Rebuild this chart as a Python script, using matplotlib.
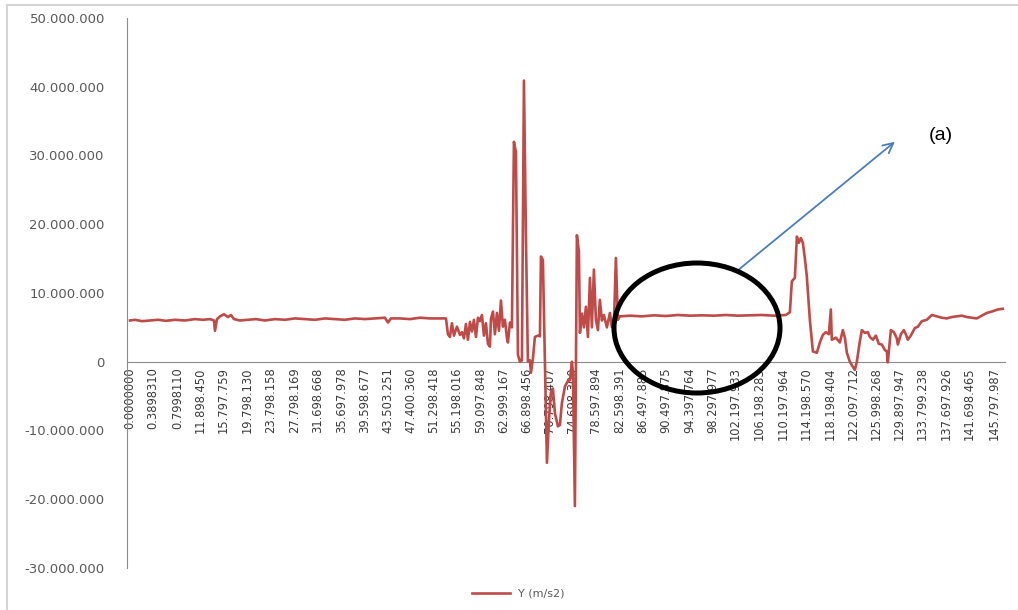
import matplotlib
matplotlib.use("Agg")
import matplotlib.pyplot as plt
import numpy as np
from matplotlib.patches import Ellipse
from matplotlib.lines import Line2D
from matplotlib.ticker import FuncFormatter

# time stamps (s) and lateral acceleration (millions of units) of the trace
time_s = [
    0.0, 0.84, 2.03, 3.38, 4.73, 6.08, 7.59, 9.28, 10.97, 12.32, 13.5, 14.18,
    14.34, 14.68, 15.19, 15.86, 16.54, 17.04, 17.55, 18.56, 19.91, 21.26,
    22.78, 24.47, 26.16, 27.84, 29.53, 31.22, 32.91, 34.59, 36.28, 37.97,
    39.66, 41.34, 43.03, 43.54, 44.04, 45.56, 47.25, 48.94, 50.63, 52.31,
    53.33, 53.66, 54.0, 54.34, 54.68, 55.18, 55.69, 56.03, 56.36, 56.7,
    57.04, 57.38, 57.71, 58.05, 58.39, 58.73, 59.06, 59.4, 59.74, 60.08,
    60.41, 60.75, 60.92, 61.26, 61.59, 61.93, 62.27, 62.61, 62.94, 63.28,
    63.62, 63.79, 64.13, 64.46, 64.8, 65.14, 65.48, 65.81, 66.15, 66.49,
    66.83, 67.16, 67.5, 67.67, 68.01, 68.34, 68.85, 69.19, 69.36, 69.69,
    70.03, 70.37, 70.71, 71.04, 71.38, 71.72, 72.23, 72.56, 72.9, 73.41,
    73.91, 74.25, 74.59, 74.76, 75.09, 75.43, 75.77, 75.94, 76.28, 76.61,
    76.95, 77.29, 77.63, 77.96, 78.3, 78.64, 78.98, 79.31, 79.65, 79.99,
    80.49, 81.0, 81.34, 81.68, 82.01, 82.35, 82.69, 84.38, 86.4, 88.43,
    90.45, 92.48, 94.5, 96.53, 98.55, 100.58, 102.6, 104.63, 106.65, 108.68,
    110.7, 111.38, 111.71, 112.22, 112.56, 112.89, 113.23, 113.57, 113.91,
    114.24, 114.75, 115.26, 115.93, 116.44, 116.94, 117.45, 117.96, 118.29,
    118.46, 119.14, 119.81, 120.32, 120.66, 121.0, 121.5, 121.84, 122.34,
    122.68, 123.19, 123.53, 124.03, 124.54, 124.88, 125.38, 125.89, 126.39,
    126.9, 127.41, 127.74, 127.91, 128.42, 128.93, 129.43, 129.6, 130.11,
    130.61, 130.95, 131.29, 131.79, 132.47, 132.98, 133.65, 134.49, 135.34,
    136.18, 137.03, 137.87, 138.71, 139.56, 140.4, 141.24, 142.09, 142.93,
    143.78, 144.62, 145.46, 146.48, 147.32,
]
accel_m = [
    6.0, 6.1, 5.9, 6.0, 6.1, 5.95, 6.1, 6.0, 6.2, 6.1, 6.2, 6.0,
    4.5, 6.2, 6.6, 6.9, 6.5, 6.8, 6.2, 6.0, 6.1, 6.2,
    6.0, 6.2, 6.1, 6.3, 6.2, 6.1, 6.3, 6.2, 6.1, 6.3,
    6.2, 6.3, 6.4, 5.7, 6.3, 6.3, 6.2, 6.4, 6.3, 6.3,
    6.3, 4.0, 3.6, 5.6, 3.8, 5.1, 3.9, 4.3, 3.4, 5.5,
    3.2, 5.8, 4.4, 6.1, 3.6, 6.4, 5.9, 6.8, 3.8, 5.6,
    2.6, 2.2, 6.2, 7.3, 4.0, 7.1, 4.5, 8.9, 5.1, 6.1,
    3.5, 2.8, 5.7, 5.0, 32.0, 30.5, 1.0, 0.0, 0.2, 40.9,
    18.0, 0.0, 0.2, -1.6, 0.5, 3.6, 3.8, 3.7, 15.3, 14.8,
    0.0, -14.7, -8.5, -4.5, -3.9, -7.5, -9.4, -9.2, -6.0, -3.6,
    -2.8, -2.7, 0.0, -1.6, -21.0, 18.4, 16.0, 4.2, 7.0, 5.0,
    8.0, 3.6, 12.2, 5.0, 13.4, 6.1, 4.6, 9.0, 6.0, 6.8,
    5.0, 7.1, 5.0, 5.5, 15.1, 6.1, 6.6, 6.7, 6.6, 6.75,
    6.65, 6.8, 6.7, 6.75, 6.7, 6.8, 6.7, 6.75, 6.8, 6.7,
    6.8, 7.2, 11.7, 12.2, 18.2, 17.3, 18.0, 17.3, 15.0,
    12.4, 6.1, 1.5, 1.3, 2.8, 3.9, 4.3, 4.0, 7.6,
    3.2, 3.5, 2.8, 4.6, 3.5, 1.3, 0.0, -0.5, -1.2,
    0.0, 3.0, 4.6, 4.2, 4.3, 3.6, 3.2, 3.8, 2.6,
    2.5, 1.7, 1.5, -0.1, 4.6, 4.3, 3.4, 2.5, 4.0,
    4.6, 4.0, 3.2, 3.8, 4.9, 5.1, 5.9, 6.1, 6.8,
    6.6, 6.4, 6.3, 6.5, 6.6, 6.7, 6.5, 6.4, 6.3,
    6.7, 7.1, 7.3, 7.6, 7.7,
]

tick_seconds = [
    0.0, 3.898, 7.998, 11.898, 15.798, 19.798, 23.798, 27.798, 31.699,
    35.698, 39.599, 43.503, 47.400, 51.298, 55.198, 59.098, 62.999, 66.898,
    70.798, 74.698, 78.598, 82.598, 86.498, 90.498, 94.398, 98.298, 102.198,
    106.198, 110.198, 114.199, 118.198, 122.098, 125.998, 129.898, 133.799,
    137.698, 141.698, 145.798,
]
tick_labels = [
    "0.0000000", "0.3898310", "0.7998110", "11.898.450", "15.797.759",
    "19.798.130", "23.798.158", "27.798.169", "31.698.668", "35.697.978",
    "39.598.677", "43.503.251", "47.400.360", "51.298.418", "55.198.016",
    "59.097.848", "62.999.167", "66.898.456", "70.798.407", "74.698.300",
    "78.597.894", "82.598.391", "86.497.885", "90.497.875", "94.397.764",
    "98.297.977", "102.197.933", "106.198.283", "110.197.964", "114.198.570",
    "118.198.404", "122.097.712", "125.998.268", "129.897.947", "133.799.238",
    "137.697.926", "141.698.465", "145.797.987",
]

accel = np.array(accel_m) * 1e6

fig = plt.figure(figsize=(10.18, 6.10), dpi=100)
ax = fig.add_axes([0.1248, 0.0689, 0.8625, 0.9016])

ax.plot(time_s, accel, color="#BE4B48", lw=1.9, label="Y (m/s2)",
        solid_joinstyle="round")

ax.set_xlim(-0.5, 147.7)
ax.set_ylim(-30e6, 50e6)
ax.set_yticks(np.arange(-30e6, 50e6 + 1, 10e6))
ax.yaxis.set_major_formatter(
    FuncFormatter(lambda v, _: f"{int(round(v)):,}".replace(",", ".")))

for side in ("top", "right"):
    ax.spines[side].set_visible(False)
ax.spines["bottom"].set_position(("data", 0))
ax.spines["bottom"].set_color("#8C8C8C")
ax.spines["left"].set_color("#8C8C8C")
ax.spines["bottom"].set_zorder(1)

ax.set_xticks(tick_seconds)
ax.set_xticklabels(tick_labels, rotation=90,
                   family=["Liberation Sans Narrow", "DejaVu Sans"],
                   fontsize=8.3, color="#3A3A3A")
ax.tick_params(axis="x", length=0, pad=4)
ax.tick_params(axis="y", length=0, pad=16, labelsize=9.5,
               labelcolor="#595959")

# highlighted steady section and its callout
fig.add_artist(Ellipse((697 / 1018, 1 - 328 / 610), 166 / 1018, 130 / 610,
                       transform=fig.transFigure, fill=False,
                       edgecolor="black", lw=3.6, zorder=5))
ax.annotate("", xy=(897 / 1018, 1 - 140 / 610),
            xytext=(737 / 1018, 1 - 271 / 610),
            xycoords="figure fraction", textcoords="figure fraction",
            arrowprops=dict(arrowstyle="->", color="#4A7EBB", lw=1.3,
                            mutation_scale=18))
fig.text(941 / 1018, 1 - 136 / 610, "(a)", ha="center", va="center",
         fontsize=14, family="Liberation Sans", color="black")

fig.legend(loc="center", bbox_to_anchor=(0.509, 1 - 594 / 610),
           frameon=False, fontsize=8, handlelength=3.5, handletextpad=0.7,
           labelcolor="#595959")

# chart area border
fig.add_artist(Line2D([7 / 1018, 7 / 1018], [0, 1 - 5 / 610],
                      transform=fig.transFigure, color="#D4D4D4", lw=1.5))
fig.add_artist(Line2D([7 / 1018, 1], [1 - 5 / 610, 1 - 5 / 610],
                      transform=fig.transFigure, color="#D4D4D4", lw=1.5))

fig.savefig("out.png", dpi=100)
